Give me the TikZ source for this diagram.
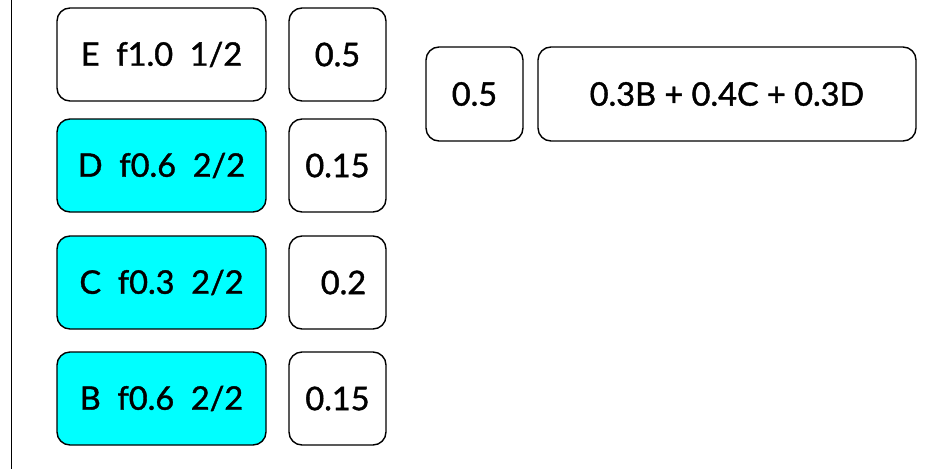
\documentclass[tikz,border=0pt]{standalone}
\usepackage{fontspec}
\setmainfont{Lato}[FakeBold=1.2,BoldFont=Lato]
\definecolor{cyanfill}{HTML}{00FFFF}
\begin{document}
\begin{tikzpicture}[x=1pt,y=-1pt,
  box/.style={draw=black, line width=1.4pt, rounded corners=13pt, fill=white, inner sep=0pt,
    font=\fontsize{32.5}{36}\selectfont\bfseries},
  wide/.style={box, minimum width=209pt, minimum height=93pt},
  small/.style={box, minimum width=97pt, minimum height=93pt},
  hot/.style={fill=cyanfill}]
\useasboundingbox (0,0) rectangle (944,469);
\fill[white] (0,0) rectangle (944,469);
\draw[line width=1.2pt] (11.5,0) -- (11.5,469);
\node[wide] (E) at (161.5,54.5) {E\ \ f1.0\ \ 1/2};
\node[small] (E5) at (337.5,54.5) {0.5};
\node[wide,hot] (D) at (161.5,165.5) {D\ \ f0.6\ \ 2/2};
\node[small] (D5) at (337.5,165.5) {0.15};
\node[wide,hot] (C) at (161.5,282.5) {C\ \ f0.3\ \ 2/2};
\node[small] (C5) at (337.5,282.5) {\hspace*{12pt}0.2};
\node[wide,hot] (B) at (161.5,398.5) {B\ \ f0.6\ \ 2/2};
\node[small] (B5) at (337.5,398.5) {0.15};
\node[small, minimum height=94pt] (P) at (474.5,94) {0.5};
\node[box, minimum width=378pt, minimum height=94pt] (Q) at (727,94) {0.3B + 0.4C + 0.3D};
\end{tikzpicture}
\end{document}
